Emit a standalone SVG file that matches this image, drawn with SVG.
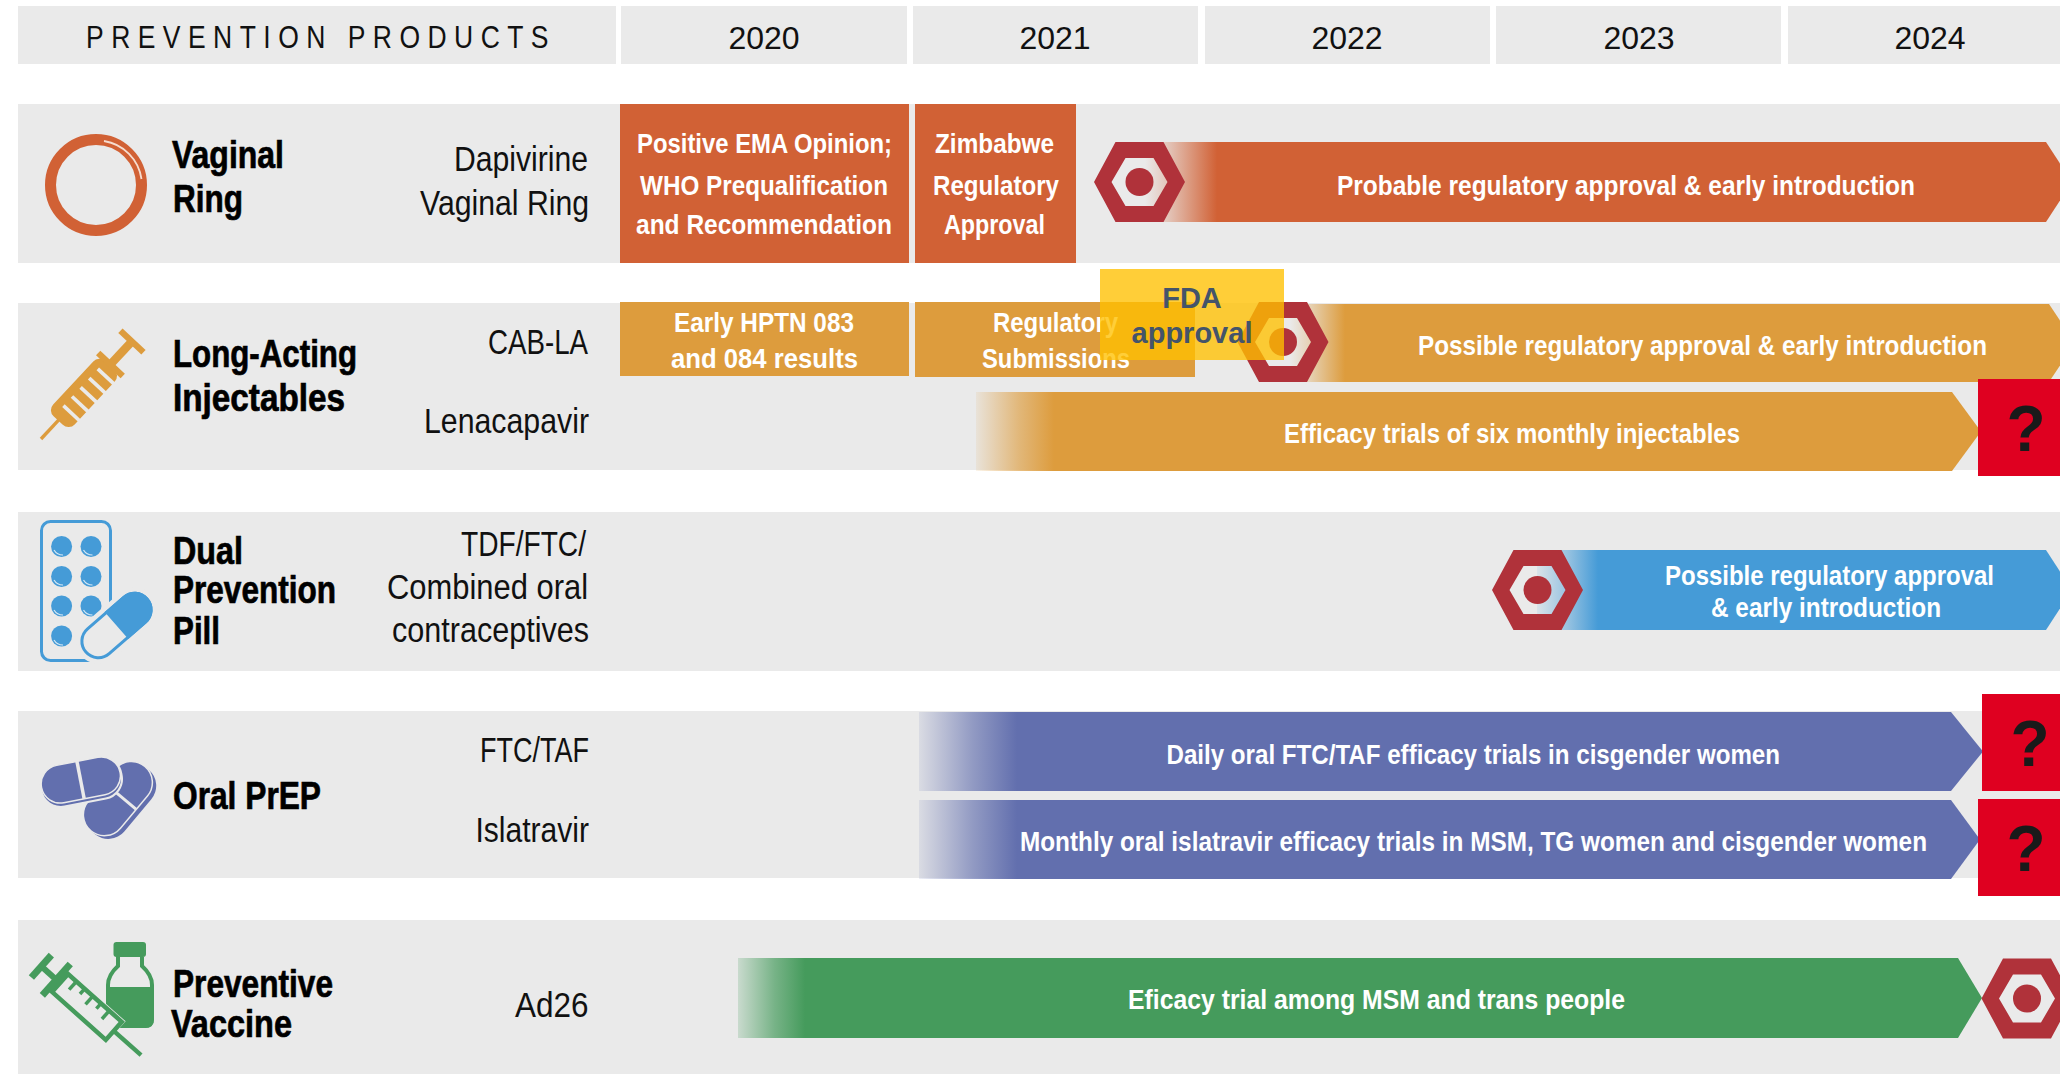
<svg xmlns="http://www.w3.org/2000/svg" xmlns:xlink="http://www.w3.org/1999/xlink" width="2060" height="1074" viewBox="0 0 2060 1074">
<style>
text{font-family:"Liberation Sans",Arial,sans-serif}
.band{fill:#eaeaea}
.yr{font-size:32px;fill:#111;text-anchor:middle}
.cat{font-size:39px;font-weight:700;fill:#000;stroke:#000;stroke-width:.7}
.prod{font-size:35px;fill:#111}
.w{font-size:28px;font-weight:700;fill:#fff}
.q{font-size:64px;font-weight:700;fill:#1a1a1a;text-anchor:middle}
.red{fill:#df0020}
.fda{font-size:29px;font-weight:700;fill:#44546a;text-anchor:middle}
.hx{fill:#b0323a;fill-rule:evenodd}
</style>
<defs>
<g id="hex"><path class="hx" d="M-45.5,0L-24,-40H24L45.5,0L24,40H-24ZM-28,0L-14,24H14L28,0L14,-24H-14Z"/><circle r="14" fill="#b0323a"/></g>
<linearGradient id="g1" gradientUnits="userSpaceOnUse" x1="1145" x2="1217" y1="0" y2="0"><stop offset="0" stop-color="#d16135" stop-opacity="0"/><stop offset=".35" stop-color="#d16135" stop-opacity=".3"/><stop offset="1" stop-color="#d16135"/></linearGradient>
<linearGradient id="g2" gradientUnits="userSpaceOnUse" x1="1290" x2="1345" y1="0" y2="0"><stop offset="0" stop-color="#dd9c3d" stop-opacity="0"/><stop offset=".35" stop-color="#dd9c3d" stop-opacity=".3"/><stop offset="1" stop-color="#dd9c3d"/></linearGradient>
<linearGradient id="g3" gradientUnits="userSpaceOnUse" x1="976" x2="1054" y1="0" y2="0"><stop offset="0" stop-color="#dd9c3d" stop-opacity=".1"/><stop offset=".55" stop-color="#dd9c3d" stop-opacity=".65"/><stop offset="1" stop-color="#dd9c3d"/></linearGradient>
<linearGradient id="g4" gradientUnits="userSpaceOnUse" x1="1537" x2="1598" y1="0" y2="0"><stop offset="0" stop-color="#459bd7" stop-opacity=".1"/><stop offset=".5" stop-color="#459bd7" stop-opacity=".5"/><stop offset="1" stop-color="#459bd7"/></linearGradient>
<linearGradient id="g5" gradientUnits="userSpaceOnUse" x1="919" x2="1017" y1="0" y2="0"><stop offset="0" stop-color="#626fae" stop-opacity=".12"/><stop offset=".55" stop-color="#626fae" stop-opacity=".65"/><stop offset="1" stop-color="#626fae"/></linearGradient>
<linearGradient id="g6" gradientUnits="userSpaceOnUse" x1="738" x2="805" y1="0" y2="0"><stop offset="0" stop-color="#459b5c" stop-opacity=".2"/><stop offset=".55" stop-color="#459b5c" stop-opacity=".7"/><stop offset="1" stop-color="#459b5c"/></linearGradient>
</defs>
<rect width="2060" height="1074" fill="#fff"/>

<g id="header">
<rect class="band" x="18" y="6" width="598" height="58"/>
<rect class="band" x="621" y="6" width="286" height="58"/>
<rect class="band" x="913" y="6" width="285" height="58"/>
<rect class="band" x="1205" y="6" width="285" height="58"/>
<rect class="band" x="1496" y="6" width="285" height="58"/>
<rect class="band" x="1788" y="6" width="272" height="58"/>
<text x="86" y="48" font-size="32" letter-spacing="9" fill="#111" textLength="470" lengthAdjust="spacingAndGlyphs">PREVENTION PRODUCTS</text>
<text class="yr" x="764" y="49">2020</text>
<text class="yr" x="1055" y="49">2021</text>
<text class="yr" x="1347" y="49">2022</text>
<text class="yr" x="1639" y="49">2023</text>
<text class="yr" x="1930" y="49">2024</text>
</g>

<g id="bands">
<rect class="band" x="18" y="104" width="2042" height="159"/>
<rect class="band" x="18" y="303" width="2042" height="167"/>
<rect class="band" x="18" y="512" width="2042" height="159"/>
<rect class="band" x="18" y="711" width="2042" height="167"/>
<rect class="band" x="18" y="920" width="2042" height="154"/>
</g>

<g id="vaginal-ring">
<circle cx="96" cy="185" r="45.5" fill="none" stroke="#d16135" stroke-width="11"/>
<path d="M104,141A45,45 0 0 1 141.500,179" fill="none" stroke="#f6dccf" stroke-width="1.800"/>
<text class="cat" x="172" y="168" textLength="112" lengthAdjust="spacingAndGlyphs">Vaginal</text>
<text class="cat" x="173" y="212" textLength="70" lengthAdjust="spacingAndGlyphs">Ring</text>
<text class="prod" x="454" y="171" textLength="134" lengthAdjust="spacingAndGlyphs">Dapivirine</text>
<text class="prod" x="420" y="215" textLength="169" lengthAdjust="spacingAndGlyphs">Vaginal Ring</text>
<rect x="620" y="104" width="289" height="159" fill="#d16135"/>
<rect x="915" y="104" width="161" height="159" fill="#d16135"/>
<text class="w" x="637" y="153" textLength="255" lengthAdjust="spacingAndGlyphs">Positive EMA Opinion;</text>
<text class="w" x="640" y="195" textLength="248" lengthAdjust="spacingAndGlyphs">WHO Prequalification</text>
<text class="w" x="636" y="234" textLength="256" lengthAdjust="spacingAndGlyphs">and Recommendation</text>
<text class="w" x="935" y="153" textLength="119" lengthAdjust="spacingAndGlyphs">Zimbabwe</text>
<text class="w" x="933" y="195" textLength="126" lengthAdjust="spacingAndGlyphs">Regulatory</text>
<text class="w" x="944" y="234" textLength="101" lengthAdjust="spacingAndGlyphs">Approval</text>
<path d="M1140,142H2046L2072,182L2046,222H1140Z" fill="url(#g1)"/>
<use xlink:href="#hex" href="#hex" x="1139.5" y="182"/>
<text class="w" x="1337" y="195" textLength="578" lengthAdjust="spacingAndGlyphs">Probable regulatory approval &amp; early introduction</text>
</g>

<g id="long-acting-injectables">
<g transform="translate(41,439) rotate(-47) scale(1.05)" fill="#dd9c3d">
<rect x="0" y="-1.6" width="30" height="3.2"/>
<rect x="24" y="-14" width="72" height="28" rx="8"/>
<g fill="#eaeaea"><rect x="36" y="-6" width="3.500" height="21"/><rect x="48" y="-6" width="3.500" height="21"/><rect x="60" y="-6" width="3.500" height="21"/><rect x="72" y="-6" width="3.500" height="21"/><rect x="84" y="-6" width="3.500" height="21"/></g>
<rect x="94" y="-16" width="6" height="32"/>
<rect x="99" y="-4" width="28" height="8"/>
<rect x="124" y="-15" width="6" height="30"/>
</g>
<text class="cat" x="173" y="367" textLength="184" lengthAdjust="spacingAndGlyphs">Long-Acting</text>
<text class="cat" x="173" y="411" textLength="172" lengthAdjust="spacingAndGlyphs">Injectables</text>
<text class="prod" x="488" y="354" textLength="100" lengthAdjust="spacingAndGlyphs">CAB-LA</text>
<text class="prod" x="424" y="433" textLength="165" lengthAdjust="spacingAndGlyphs">Lenacapavir</text>
<rect x="620" y="302" width="289" height="74" fill="#dd9c3d"/>
<rect x="915" y="302" width="280" height="75" fill="#dd9c3d"/>
<text class="w" x="674" y="332" textLength="180" lengthAdjust="spacingAndGlyphs">Early HPTN 083</text>
<text class="w" x="671" y="368" textLength="187" lengthAdjust="spacingAndGlyphs">and 084 results</text>
<text class="w" x="993" y="332" textLength="125" lengthAdjust="spacingAndGlyphs">Regulatory</text>
<text class="w" x="982" y="368" textLength="148" lengthAdjust="spacingAndGlyphs">Submissions</text>
<path d="M1285,304H2049L2075,343L2049,382H1285Z" fill="url(#g2)"/>
<use xlink:href="#hex" href="#hex" x="1283" y="342"/>
<text class="w" x="1418" y="355" textLength="569" lengthAdjust="spacingAndGlyphs">Possible regulatory approval &amp; early introduction</text>
<path d="M976,392H1952L1981,431.500L1952,471H976Z" fill="url(#g3)"/>
<text class="w" x="1284" y="443" textLength="456" lengthAdjust="spacingAndGlyphs">Efficacy trials of six monthly injectables</text>
<rect class="red" x="1978" y="379" width="82" height="97"/>
<text class="q" x="2026" y="451">?</text>
</g>

<g id="dual-prevention-pill">
<rect x="41.500" y="521.500" width="69" height="139" rx="9" fill="none" stroke="#459bd7" stroke-width="3"/>
<g fill="#459bd7">
<circle cx="61.600" cy="546.500" r="10.500"/><circle cx="91" cy="546.500" r="10.500"/>
<circle cx="61.600" cy="576.500" r="10.500"/><circle cx="91" cy="576.500" r="10.500"/>
<circle cx="61.600" cy="606" r="10.500"/><circle cx="91" cy="606" r="10.500"/>
<circle cx="61.600" cy="636" r="10.500"/>
</g>
<g fill="none" stroke="#d6e8f5" stroke-width="1.200">
<path d="M54,550Q57,555 63,555"/><path d="M83.500,550Q86.500,555 92.500,555"/>
<path d="M54,580Q57,585 63,585"/><path d="M83.500,580Q86.500,585 92.500,585"/>
<path d="M54,610Q57,615 63,615"/><path d="M83.500,610Q86.500,615 92.500,615"/>
<path d="M54,640Q57,645 63,645"/>
</g>
<g transform="translate(116.500,625.500) rotate(-41)">
<rect x="-42" y="-18" width="84" height="36" rx="18" fill="#eaeaea" stroke="#eaeaea" stroke-width="9"/>
<rect x="-40.500" y="-16.500" width="81" height="33" rx="16.500" fill="#eaeaea" stroke="#459bd7" stroke-width="3"/>
<path d="M0,-18H24A18,18 0 0 1 24,18H0Z" fill="#459bd7"/>
</g>
<text class="cat" x="173" y="564" textLength="70" lengthAdjust="spacingAndGlyphs">Dual</text>
<text class="cat" x="173" y="603" textLength="163" lengthAdjust="spacingAndGlyphs">Prevention</text>
<text class="cat" x="173" y="644" textLength="47" lengthAdjust="spacingAndGlyphs">Pill</text>
<text class="prod" x="461" y="556" textLength="125" lengthAdjust="spacingAndGlyphs">TDF/FTC/</text>
<text class="prod" x="387" y="599" textLength="201" lengthAdjust="spacingAndGlyphs">Combined oral</text>
<text class="prod" x="392" y="642" textLength="197" lengthAdjust="spacingAndGlyphs">contraceptives</text>
<path d="M1537,550H2046L2072,590L2046,630H1537Z" fill="url(#g4)"/>
<use xlink:href="#hex" href="#hex" x="1537.5" y="590"/>
<text class="w" x="1665" y="585" textLength="329" lengthAdjust="spacingAndGlyphs">Possible regulatory approval</text>
<text class="w" x="1711" y="617" textLength="230" lengthAdjust="spacingAndGlyphs">&amp; early introduction</text>
</g>

<g id="oral-prep">
<g transform="translate(118,800) rotate(-50)">
<rect x="-41" y="-19" width="84" height="44" rx="21" fill="#626fae"/>
<rect x="-41" y="-22" width="84" height="42" rx="21" fill="#626fae" stroke="#eaeaea" stroke-width="1.500"/>
<rect x="3" y="-22" width="3" height="42" fill="#eaeaea"/>
</g>
<g transform="translate(81,781) rotate(-11)">
<rect x="-40" y="-19" width="80" height="40" rx="19" fill="#eaeaea" stroke="#eaeaea" stroke-width="4"/>
<rect x="-40" y="-17" width="80" height="38" rx="19" fill="#626fae"/>
<rect x="-40" y="-20" width="80" height="38" rx="19" fill="#626fae" stroke="#eaeaea" stroke-width="1.500"/>
<rect x="-2" y="-20" width="3.500" height="38" fill="#eaeaea"/>
</g>
<text class="cat" x="173" y="809" textLength="148" lengthAdjust="spacingAndGlyphs">Oral PrEP</text>
<text class="prod" x="480" y="762" textLength="109" lengthAdjust="spacingAndGlyphs">FTC/TAF</text>
<text class="prod" x="475.500" y="842" textLength="113.500" lengthAdjust="spacingAndGlyphs">Islatravir</text>
<path d="M919,712H1951L1983,751.500L1951,791H919Z" fill="url(#g5)"/>
<path d="M919,800H1951L1980,839.500L1951,879H919Z" fill="url(#g5)"/>
<text class="w" x="1166.500" y="764" textLength="613.500" lengthAdjust="spacingAndGlyphs">Daily oral FTC/TAF efficacy trials in cisgender women</text>
<text class="w" x="1020" y="851" textLength="907" lengthAdjust="spacingAndGlyphs">Monthly oral islatravir efficacy trials in MSM, TG women and cisgender women</text>
<rect class="red" x="1982" y="694" width="78" height="97"/>
<rect class="red" x="1978" y="799" width="82" height="97"/>
<text class="q" x="2030" y="766">?</text>
<text class="q" x="2026" y="871">?</text>
</g>

<g id="preventive-vaccine">
<rect x="113.500" y="942" width="32.500" height="15" rx="3" fill="#459b5c"/>
<path d="M118,957V966Q108,975 108,985V1019Q108,1026 115,1026H145Q152,1026 152,1019V985Q152,975 142,966V957" fill="none" stroke="#459b5c" stroke-width="4"/>
<path d="M106,987H154V1019Q154,1028 145,1028H115Q106,1028 106,1019Z" fill="#459b5c"/>
<g transform="translate(41,966) rotate(41.700)" fill="#459b5c">
<rect x="22" y="-15" width="78" height="30" fill="#eaeaea"/>
<rect x="-3" y="-15" width="7" height="30"/>
<rect x="3" y="-3" width="16" height="6"/>
<rect x="17" y="-21" width="7" height="42"/>
<rect x="25.500" y="-12" width="72" height="24" fill="#eaeaea" stroke="#459b5c" stroke-width="4.500"/>
<rect x="97" y="-2.200" width="37" height="4.400"/>
<rect x="35" y="-12" width="3.500" height="11"/><rect x="46" y="-12" width="3.500" height="7"/><rect x="57" y="-12" width="3.500" height="11"/><rect x="68" y="-12" width="3.500" height="7"/><rect x="79" y="-12" width="3.500" height="11"/>
</g>
<text class="cat" x="173" y="997" textLength="160" lengthAdjust="spacingAndGlyphs">Preventive</text>
<text class="cat" x="171" y="1037" textLength="121" lengthAdjust="spacingAndGlyphs">Vaccine</text>
<text class="prod" x="515" y="1017" textLength="73.500" lengthAdjust="spacingAndGlyphs">Ad26</text>
<path d="M738,958H1958L1982,998L1958,1038H738Z" fill="url(#g6)"/>
<text class="w" x="1128" y="1009" textLength="497" lengthAdjust="spacingAndGlyphs">Eficacy trial among MSM and trans people</text>
<use xlink:href="#hex" href="#hex" x="2027" y="998.500"/>
</g>

<g id="fda-approval">
<rect x="1100" y="269" width="184" height="91" fill="#ffc000" fill-opacity=".78"/>
<text class="fda" x="1192" y="308">FDA</text>
<text class="fda" x="1192" y="343">approval</text>
</g>
</svg>
